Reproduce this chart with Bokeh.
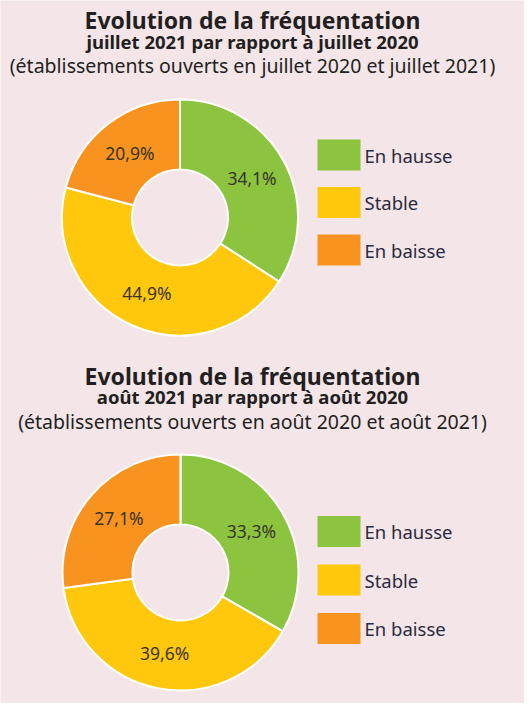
import math
from bokeh.plotting import figure
from bokeh.models import ColumnDataSource
from bokeh.core.properties import value
from bokeh.embed import file_html
from bokeh.resources import INLINE

# ---- data ----
categories = ["En hausse", "Stable", "En baisse"]
colors = ["#8cc43f", "#ffc80c", "#f7931e"]
juillet_values = [34.1, 44.9, 20.9]
aout_values = [33.3, 39.6, 27.1]

titles = ["Evolution de la fréquentation", "Evolution de la fréquentation"]
subtitles = ["juillet 2021 par rapport à juillet 2020",
             "août 2021 par rapport à août 2020"]
notes = ["(établissements ouverts en juillet 2020 et juillet 2021)",
         "(établissements ouverts en août 2020 et août 2021)"]

# ---- layout (page pixels) ----
W, H = 524, 703
BG = "#f3e5e8"
FONT = "Noto Sans"
TITLE_C = "#231f20"
LEG_C = "#2b2b3d"
LAB_C = "#3a3420"

panels = [
    dict(vals=juillet_values, title_y=27, sub_y=48.5, note_y=72.5,
         cx=187.5, cy=225, leg_y0=162.5, leg_dy=47.5),
    dict(vals=aout_values, title_y=383, sub_y=404, note_y=429,
         cx=188, cy=580, leg_y0=539, leg_dy=48.5),
]
R_OUT, R_IN, R_LAB = 118, 48, 82
TEXT_CX = 260


def fx(px):
    return px - 8


def fy(py):
    return H + 8 - py


p = figure(width=W, height=H, x_range=(0, W), y_range=(0, H),
           output_backend="svg", toolbar_location=None, min_border=0,
           background_fill_color=BG, border_fill_color=BG)
p.axis.visible = False
p.grid.visible = False
p.outline_line_color = None

for i, pan in enumerate(panels):
    vals = pan["vals"]
    tot = sum(vals)
    starts, ends, lx, ly, labs = [], [], [], [], []
    cum = 0.0
    for v in vals:
        a0 = math.pi / 2 - 2 * math.pi * cum / tot
        cum += v
        a1 = math.pi / 2 - 2 * math.pi * cum / tot
        starts.append(a0)
        ends.append(a1)
        mid = (a0 + a1) / 2
        lx.append(fx(pan["cx"]) + R_LAB * math.cos(mid))
        ly.append(fy(pan["cy"]) + R_LAB * math.sin(mid))
        labs.append(f"{v:.1f}".replace(".", ",") + "%")
    src = ColumnDataSource(dict(start=starts, end=ends, color=colors,
                                lx=lx, ly=ly, lab=labs))
    p.annular_wedge(x=fx(pan["cx"]), y=fy(pan["cy"]), inner_radius=R_IN,
                    outer_radius=R_OUT, start_angle="start", end_angle="end",
                    direction="clock", fill_color="color", line_color="white",
                    line_width=2, source=src)
    p.text(x="lx", y="ly", text="lab", source=src, text_align="center",
           text_baseline="middle", text_font=value(FONT),
           text_font_size="17.5px", text_color=LAB_C)

    # titles
    p.text(x=[fx(TEXT_CX)], y=[fy(pan["title_y"])], text=[titles[i]],
           text_align="center", text_baseline="middle",
           text_font=value(FONT), text_font_style="bold",
           text_font_size="23px", text_color=TITLE_C)
    p.text(x=[fx(TEXT_CX)], y=[fy(pan["sub_y"])], text=[subtitles[i]],
           text_align="center", text_baseline="middle",
           text_font=value(FONT), text_font_style="bold",
           text_font_size="18.5px", text_color=TITLE_C)
    p.text(x=[fx(TEXT_CX)], y=[fy(pan["note_y"])], text=[notes[i]],
           text_align="center", text_baseline="middle",
           text_font=value(FONT), text_font_size="19.5px", text_color=TITLE_C)

    # legend
    ys = [fy(pan["leg_y0"] + k * pan["leg_dy"]) for k in range(len(categories))]
    lsrc = ColumnDataSource(dict(y=ys, color=colors, name=categories))
    p.rect(x=fx(346.5), y="y", width=43, height=31, fill_color="color",
           line_color=None, source=lsrc)
    p.text(x=fx(372), y="y", text="name", source=lsrc, text_align="left",
           text_baseline="middle", text_font=value(FONT),
           text_font_size="18.5px", text_color=LEG_C)

open("out.html", "w").write(file_html(p, INLINE))
